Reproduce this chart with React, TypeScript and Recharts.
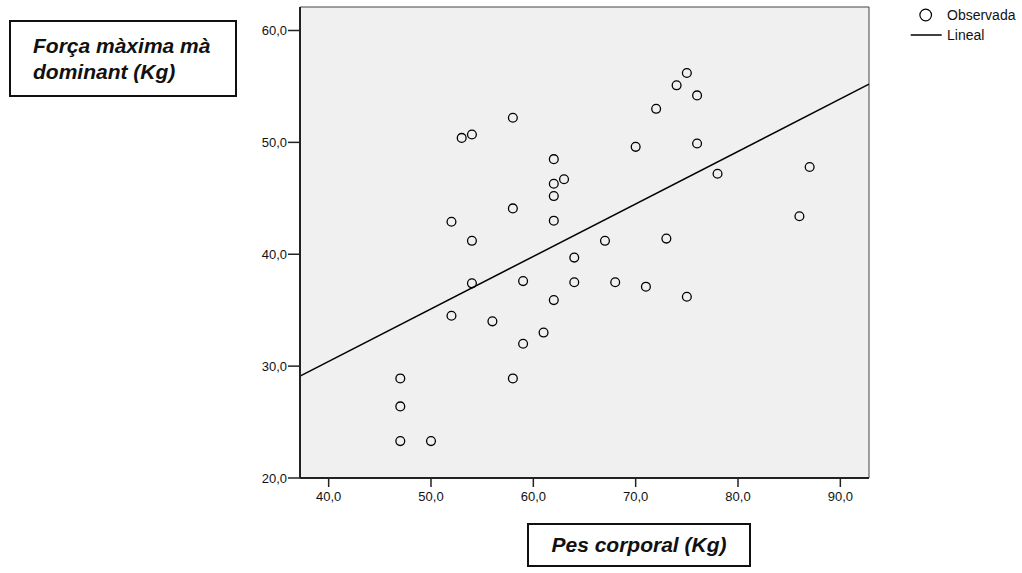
import {
  ScatterChart,
  Scatter,
  XAxis,
  YAxis,
  CartesianGrid,
  ReferenceLine,
  ReferenceArea,
} from 'recharts'

// Pes corporal (Kg) vs Força màxima mà dominant (Kg)
const pesCorporal = [
  47, 47, 47, 50, 52, 52, 53, 54, 54, 54, 56, 58, 58, 58, 59, 59, 61, 62, 62, 62,
  62, 62, 63, 64, 64, 67, 68, 70, 71, 72, 73, 74, 75, 75, 76, 76, 78, 86, 87,
]
const forcaMaxima = [
  28.9, 26.4, 23.3, 23.3, 42.9, 34.5, 50.4, 50.7, 41.2, 37.4, 34.0, 52.2, 44.1, 28.9, 37.6, 32.0, 33.0, 48.5, 46.3, 45.2,
  43.0, 35.9, 46.7, 39.7, 37.5, 41.2, 37.5, 49.6, 37.1, 53.0, 41.4, 55.1, 56.2, 36.2, 54.2, 49.9, 47.2, 43.4, 47.8,
]

// fitted line (Lineal), read at the plot edges
const linealX = [37.2, 92.8]
const linealY = [29.1, 55.2]

const xTicks = [40, 50, 60, 70, 80, 90]
const yTicks = [20, 30, 40, 50, 60]
const xDomain = [37.2, 92.8]
const yDomain = [20, 62.1]

const points = pesCorporal.map((x, i) => ({ x, y: forcaMaxima[i] }))

const fmt = (v: number) => v.toFixed(1).replace('.', ',')
const font = '"Liberation Sans", Arial, sans-serif'

const Circle = (props: any) => {
  const { cx, cy } = props
  if (cx == null || cy == null) return null
  return <circle cx={cx} cy={cy} r={4.4} fill="none" stroke="#000" strokeWidth={1.3} />
}

export default function App() {
  return (
    <div style={{ position: 'absolute', left: 0, top: 0, width: 1022, height: 573, background: '#fff', fontFamily: font }}>
      <ScatterChart width={1022} height={573} margin={{ top: 7, right: 153, left: 240, bottom: 65 }}>
        <CartesianGrid fill="#f0f0f0" horizontal={false} vertical={false} />
        <ReferenceArea
          x1={xDomain[0]}
          x2={xDomain[1]}
          y1={yDomain[0]}
          y2={yDomain[1]}
          fill="none"
          stroke="#444"
          strokeWidth={1}
          ifOverflow="visible"
        />
        <XAxis
          type="number"
          dataKey="x"
          domain={xDomain}
          ticks={xTicks}
          allowDataOverflow
          tickFormatter={fmt}
          tick={{ fontSize: 13, fill: '#111', fontFamily: font }}
          tickSize={9}
          tickMargin={5}
          axisLine={{ stroke: '#222', strokeWidth: 2 }}
          tickLine={{ stroke: '#222', strokeWidth: 1.5 }}
        />
        <YAxis
          type="number"
          dataKey="y"
          domain={yDomain}
          ticks={yTicks}
          allowDataOverflow
          width={60}
          tickFormatter={fmt}
          tick={{ fontSize: 13, fill: '#111', fontFamily: font }}
          tickSize={12}
          tickMargin={1}
          axisLine={{ stroke: '#222', strokeWidth: 2 }}
          tickLine={{ stroke: '#222', strokeWidth: 1.5 }}
        />
        <ReferenceLine
          segment={[
            { x: linealX[0], y: linealY[0] },
            { x: linealX[1], y: linealY[1] },
          ]}
          stroke="#000"
          strokeWidth={1.5}
          ifOverflow="visible"
        />
        <Scatter data={points} shape={Circle} isAnimationActive={false} />
      </ScatterChart>

      {/* y axis title box */}
      <div
        style={{
          position: 'absolute',
          left: 9,
          top: 20,
          width: 224,
          height: 73,
          border: '2px solid #111',
          fontWeight: 'bold',
          fontStyle: 'italic',
          fontSize: 21,
          lineHeight: '26px',
          display: 'flex',
          flexDirection: 'column',
          justifyContent: 'center',
          color: '#111',
        }}
      >
        <div style={{ paddingLeft: 22 }}>Força màxima mà</div>
        <div style={{ paddingLeft: 22 }}>dominant (Kg)</div>
      </div>

      {/* x axis title box */}
      <div
        style={{
          position: 'absolute',
          left: 527,
          top: 523,
          width: 220,
          height: 40,
          border: '2px solid #111',
          fontWeight: 'bold',
          fontStyle: 'italic',
          fontSize: 21,
          lineHeight: '40px',
          textAlign: 'center',
          color: '#111',
        }}
      >
        Pes corporal (Kg)
      </div>

      {/* legend */}
      <svg style={{ position: 'absolute', left: 905, top: 4 }} width={40} height={40}>
        <circle cx={20.7} cy={11} r={5.8} fill="none" stroke="#000" strokeWidth={1.2} />
        <line x1={5.7} x2={36.7} y1={31} y2={31} stroke="#000" strokeWidth={1.5} />
      </svg>
      <div style={{ position: 'absolute', left: 947, top: 6, fontSize: 14, lineHeight: '18px', color: '#111' }}>
        Observada
      </div>
      <div style={{ position: 'absolute', left: 947, top: 26, fontSize: 14, lineHeight: '18px', color: '#111' }}>
        Lineal
      </div>
    </div>
  )
}
